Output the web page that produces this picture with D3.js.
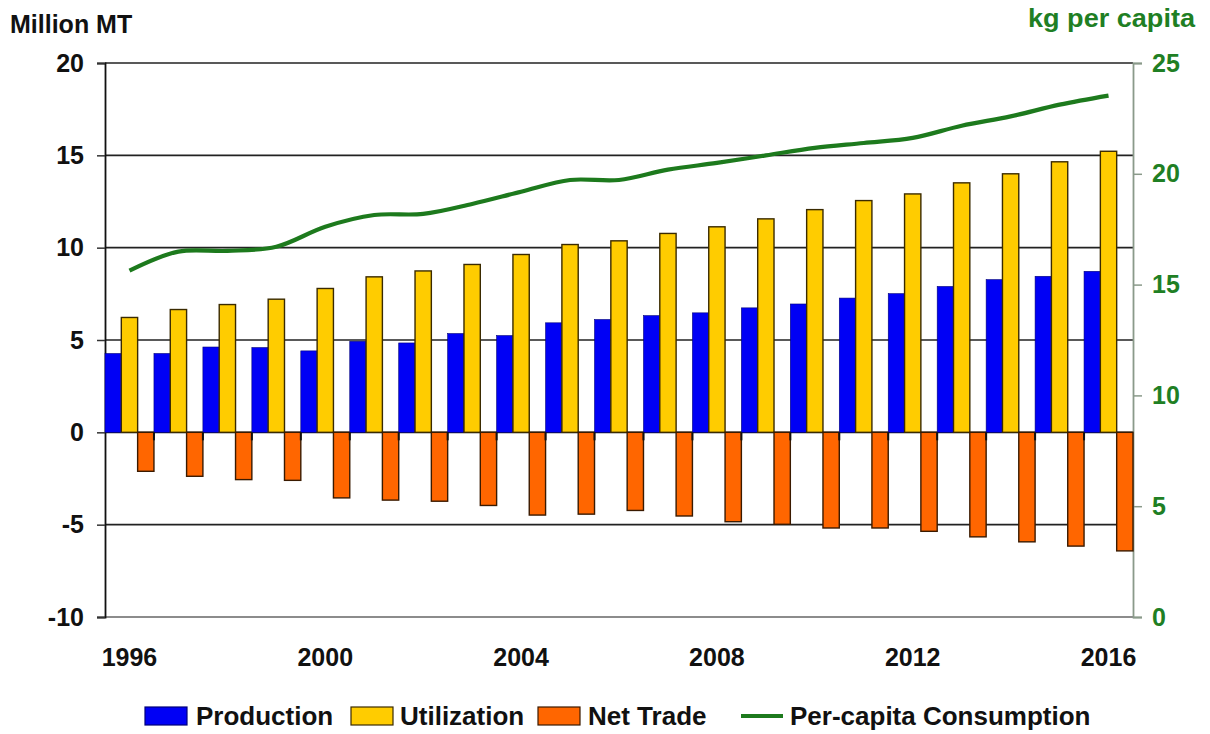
<!DOCTYPE html>
<html>
<head>
<meta charset="utf-8">
<script src="https://cdn.jsdelivr.net/npm/d3@7"></script>
<style>
  html, body { margin: 0; padding: 0; background: #fff; }
  svg { display: block; font-family: "Liberation Sans", Arial, sans-serif; }
</style>
</head>
<body>
<svg id="chart" width="1210" height="734"></svg>
<script>
// ---- data ----
const years = ["1996","1997","1998","1999","2000","2001","2002","2003","2004","2005","2006",
               "2007","2008","2009","2010","2011","2012","2013","2014","2015","2016"];
const production  = [4.27, 4.27, 4.62, 4.59, 4.41, 4.93, 4.84, 5.35, 5.24, 5.93, 6.11,
                     6.32, 6.47, 6.74, 6.95, 7.27, 7.51, 7.90, 8.27, 8.45, 8.72];
const utilization = [6.22, 6.65, 6.92, 7.21, 7.79, 8.42, 8.74, 9.09, 9.63, 10.17, 10.37,
                     10.77, 11.13, 11.56, 12.06, 12.55, 12.91, 13.51, 14.00, 14.65, 15.22];
const netTrade    = [-2.11, -2.38, -2.56, -2.60, -3.55, -3.67, -3.73, -3.96, -4.48, -4.43, -4.23,
                     -4.53, -4.84, -4.98, -5.18, -5.18, -5.36, -5.66, -5.93, -6.16, -6.42];
const perCapita   = [15.63, 16.49, 16.52, 16.71, 17.61, 18.14, 18.19, 18.64, 19.19, 19.72, 19.72,
                     20.19, 20.49, 20.83, 21.17, 21.39, 21.62, 22.17, 22.59, 23.12, 23.53];
const seriesNames = ["Production", "Utilization", "Net Trade"];
const lineName = "Per-capita Consumption";
const leftTicks  = [-10, -5, 0, 5, 10, 15, 20];
const rightTicks = [0, 5, 10, 15, 20, 25];
const yearTickLabels = ["1996","2000","2004","2008","2012","2016"];
const leftTitle = "Million MT";
const rightTitle = "kg per capita";

// ---- styles ----
const colors = { "Production": "#0000f5", "Utilization": "#ffcc00", "Net Trade": "#ff6600" };
const strokes = { "Production": "#00007a", "Utilization": "#3a2a00", "Net Trade": "#3a1a00" };
const green = "#1d7a1d";
const labelGreen = "#1f7f24";

const svg = d3.select("#chart");
const L = 105, R = 1133, T = 63, B = 617;

const x = d3.scaleBand().domain(years).range([L, R]).padding(0);
const xi = d3.scaleBand().domain(seriesNames).range([0, x.bandwidth()]).padding(0);
const yL = d3.scaleLinear().domain([-10, 20]).range([B, T]);
const yR = d3.scaleLinear().domain([0, 25]).range([B, T]);
const fmt = d => String(d);  // plain hyphen-minus like the reference

// gridlines
svg.append("g").selectAll("line").data(leftTicks).join("line")
  .attr("x1", L).attr("x2", R)
  .attr("y1", d => yL(d)).attr("y2", d => yL(d))
  .attr("stroke", d => d === -10 ? "#666" : "#222")
  .attr("stroke-width", 1.6);

// left axis
const gL = svg.append("g").attr("transform", `translate(${L},0)`)
  .call(d3.axisLeft(yL).tickValues(leftTicks).tickSize(8).tickPadding(13).tickFormat(fmt));
gL.select(".domain").attr("stroke", "#111").attr("stroke-width", 1.8);
gL.selectAll(".tick line").attr("stroke", "#333").attr("stroke-width", 1.5);
gL.selectAll(".tick text").attr("font-size", 25).attr("font-weight", "bold").attr("fill", "#111")
  .attr("font-family", "Liberation Sans, Arial, sans-serif");

// right axis
const gR = svg.append("g").attr("transform", `translate(${R},0)`)
  .call(d3.axisRight(yR).tickValues(rightTicks).tickSize(9).tickPadding(10).tickFormat(fmt));
gR.select(".domain").attr("stroke", "#8a9a8a").attr("stroke-width", 1.8);
gR.selectAll(".tick line").attr("stroke", "#8a9a8a").attr("stroke-width", 1.5);
gR.selectAll(".tick text").attr("font-size", 25).attr("font-weight", "bold").attr("fill", labelGreen)
  .attr("font-family", "Liberation Sans, Arial, sans-serif");

// bars
const valuesBySeries = { "Production": production, "Utilization": utilization, "Net Trade": netTrade };
const barData = [];
years.forEach((yr, i) => seriesNames.forEach(s => barData.push({ year: yr, s, v: valuesBySeries[s][i] })));
svg.append("g").selectAll("rect").data(barData).join("rect")
  .attr("x", d => x(d.year) + xi(d.s))
  .attr("width", xi.bandwidth())
  .attr("y", d => Math.min(yL(d.v), yL(0)))
  .attr("height", d => Math.abs(yL(d.v) - yL(0)))
  .attr("fill", d => colors[d.s])
  .attr("stroke", d => strokes[d.s])
  .attr("stroke-width", d => d.s === "Production" ? 0.6 : 1.4);

// category tick marks at zero line
svg.append("g").selectAll("line").data(years.slice(1)).join("line")
  .attr("x1", d => x(d)).attr("x2", d => x(d))
  .attr("y1", yL(0)).attr("y2", yL(0) + 8)
  .attr("stroke", "#111").attr("stroke-width", 2);

// year labels
svg.append("g").selectAll("text").data(yearTickLabels).join("text")
  .attr("x", d => x(d) + x.bandwidth() / 2)
  .attr("y", 666)
  .attr("text-anchor", "middle")
  .attr("font-size", 25).attr("font-weight", "bold").attr("fill", "#111")
  .text(d => d);

// per-capita line
const line = d3.line()
  .x((d, i) => x(years[i]) + x.bandwidth() / 2)
  .y(d => yR(d))
  .curve(d3.curveCatmullRom.alpha(0.5));
svg.append("path").datum(perCapita)
  .attr("d", line)
  .attr("fill", "none")
  .attr("stroke", green)
  .attr("stroke-width", 4.2)
  .attr("stroke-linejoin", "round");

// axis titles
svg.append("text").attr("x", 10).attr("y", 33)
  .attr("font-size", 25).attr("font-weight", "bold").attr("fill", "#111")
  .text(leftTitle);
svg.append("text").attr("x", 1195).attr("y", 27)
  .attr("text-anchor", "end")
  .attr("font-size", 25).attr("font-weight", "bold").attr("fill", labelGreen)
  .attr("textLength", 167).attr("lengthAdjust", "spacingAndGlyphs")
  .text(rightTitle);

// legend
const legend = svg.append("g");
const legendItems = [
  { name: "Production", type: "rect", sx: 145, tx: 196 },
  { name: "Utilization", type: "rect", sx: 351, tx: 400 },
  { name: "Net Trade", type: "rect", sx: 538, tx: 588 },
  { name: lineName, type: "line", sx: 741, tx: 790 }
];
legendItems.forEach(it => {
  if (it.type === "rect") {
    legend.append("rect").attr("x", it.sx).attr("y", 707).attr("width", 42).attr("height", 18)
      .attr("fill", colors[it.name]).attr("stroke", strokes[it.name]).attr("stroke-width", 1.2);
  } else {
    legend.append("line").attr("x1", it.sx).attr("x2", it.sx + 42).attr("y1", 716).attr("y2", 716)
      .attr("stroke", green).attr("stroke-width", 4.2);
  }
  legend.append("text").attr("x", it.tx).attr("y", 725)
    .attr("font-size", 26).attr("font-weight", "bold").attr("fill", "#111")
    .text(it.name);
});
</script>
</body>
</html>
